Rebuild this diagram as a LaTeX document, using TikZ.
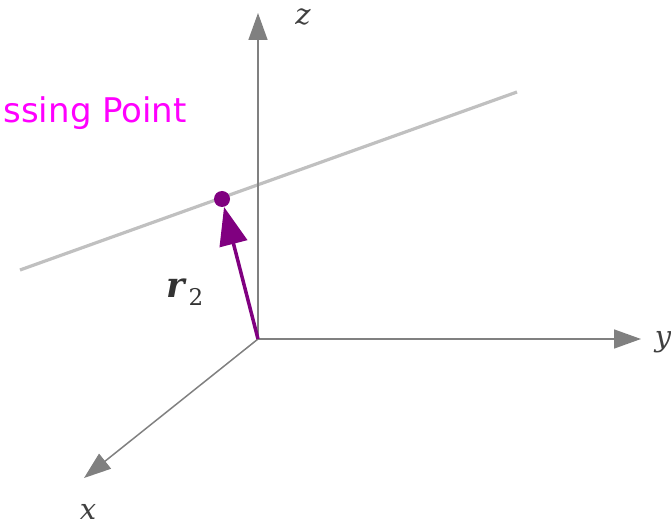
\documentclass[tikz,border=0pt]{standalone}
\usepackage{fontspec}
\setmainfont{DejaVu Serif}
\newfontfamily\labsans{DejaVu Sans}
\usetikzlibrary{arrows.meta}
\definecolor{vecpurple}{RGB}{128,0,128}
\definecolor{ptmagenta}{RGB}{255,0,255}
\definecolor{axgray}{RGB}{128,128,128}
\definecolor{lnsilver}{RGB}{192,192,192}
\begin{document}
\begin{tikzpicture}[x=1pt,y=-1pt,
  axisline/.style={draw=axgray, line width=1.5pt, -{Triangle[length=27pt,width=19pt]}},
  vecline/.style={draw=vecpurple, line width=3.5pt, -{Triangle[length=38pt,width=28pt]}},
  passline/.style={draw=lnsilver, line width=3.2pt},
  ptdot/.style={circle, fill=vecpurple, inner sep=0pt, minimum size=16pt},
  axlabel/.style={font=\fontsize{29}{30}\selectfont\itshape, text=black!75, inner sep=0pt},
  ptlabel/.style={font=\labsans\fontsize{34}{36}\selectfont, text=ptmagenta, inner sep=0pt}
]
\useasboundingbox (0,0) rectangle (671,526);
\clip (0,0) rectangle (671,526);
\coordinate (o) at (258,339);
\coordinate (zt) at (258,13);
\coordinate (yt) at (641,339);
\coordinate (xt) at (84,478);
\coordinate (l1) at (20,270);
\coordinate (l2) at (517,92);
\draw[passline] (l1) -- (l2);
\draw[axisline] (o) -- (zt);
\draw[axisline] (o) -- (yt);
\draw[axisline] (o) -- (xt);
\node[ptdot] (p) at (222,199) {};
\draw[vecline] (o) -- (p);
\node[axlabel, anchor=base] (zl) at (303,25) {z};
\node[axlabel, anchor=base] (yl) at (663,346) {y};
\node[axlabel, anchor=base] (xl) at (88,519) {x};
\node[anchor=base west, inner sep=0pt, text=black!80] (rl) at (166,298) {\fontsize{35}{36}\selectfont\bfseries\itshape r\kern4pt\raisebox{-8pt}{\mdseries\upshape\fontsize{23}{23}\selectfont 2}};
\node[ptlabel, anchor=base east] (pl) at (187,123) {ssing Point};
\end{tikzpicture}
\end{document}
